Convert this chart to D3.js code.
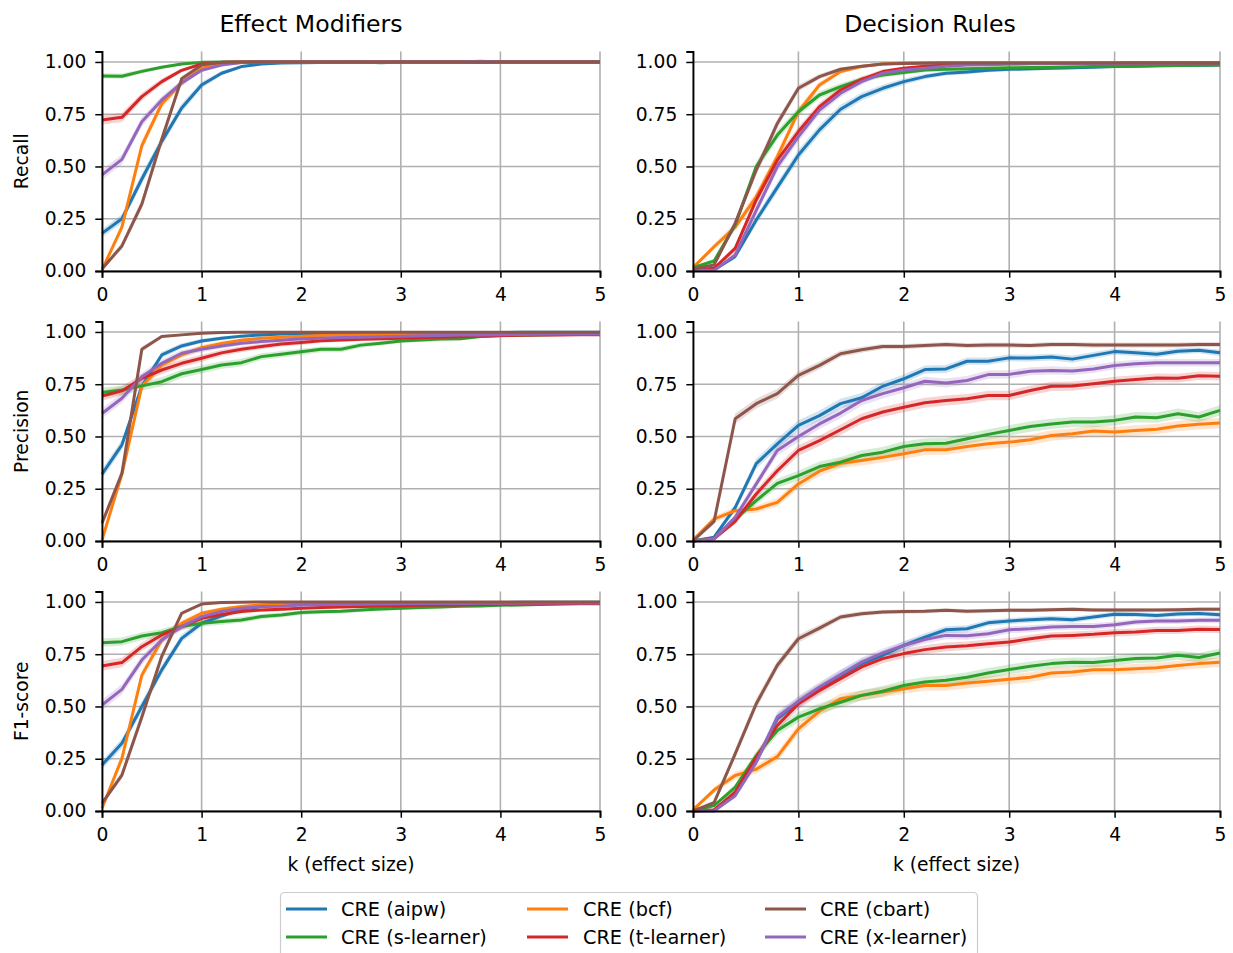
<!DOCTYPE html>
<html>
<head>
<meta charset="utf-8">
<script src="https://cdn.jsdelivr.net/npm/d3@7"></script>
<style>
  body { margin: 0; background: #fff; }
  text { font-family: "DejaVu Sans", sans-serif; fill: #000; }
</style>
</head>
<body>
<div id="chart"></div>
<script>
// Data
// ===========================
var ks = [0, 0.2, 0.4, 0.6, 0.8, 1, 1.2, 1.4, 1.6, 1.8, 2, 2.2, 2.4, 2.6, 2.8, 3, 3.2, 3.4, 3.6, 3.8, 4, 4.2, 4.4, 4.6, 4.8, 5];

// method order follows the colour cycle: aipw, bcf, s-learner, t-learner, x-learner, cbart
var methods = ["CRE (aipw)", "CRE (bcf)", "CRE (s-learner)", "CRE (t-learner)", "CRE (x-learner)", "CRE (cbart)"];
var colors = ["#1f77b4", "#ff7f0e", "#2ca02c", "#d62728", "#9467bd", "#8c564b"];

var colTitles = ["Effect Modifiers", "Decision Rules"];
var rowLabels = ["Recall", "Precision", "F1-score"];
var xTicks = [0, 1, 2, 3, 4, 5];
var yTicks = [0, 0.25, 0.5, 0.75, 1.0];

var recallEM = [
  [0.18, 0.25, 0.44, 0.62, 0.78, 0.89, 0.946, 0.978, 0.99, 0.995, 0.996, 0.997, 0.998, 0.999, 1, 1, 1, 1, 1, 1, 1, 1, 1, 1, 1, 1],
  [0.005, 0.21, 0.6, 0.8, 0.9, 0.97, 0.99, 0.997, 1, 1, 1, 1, 1, 1, 1, 1, 1, 1, 1, 1, 1, 1, 1, 1, 1, 1],
  [0.933, 0.932, 0.955, 0.975, 0.99, 0.998, 1, 1, 1, 1, 1, 1, 1, 1, 0.996, 1, 1, 1, 1, 1, 1, 1, 1, 1, 1, 1],
  [0.722, 0.735, 0.834, 0.906, 0.96, 0.99, 0.998, 1, 1, 1, 1, 1, 1, 1, 1, 1, 1, 1, 1, 1, 1, 1, 1, 1, 1, 1],
  [0.46, 0.534, 0.714, 0.818, 0.9, 0.96, 0.985, 0.997, 1, 1, 1, 1, 1, 1, 1, 1, 1, 1, 1, 1.003, 1, 1, 1, 1, 1, 1],
  [0.01, 0.12, 0.32, 0.63, 0.92, 0.985, 0.998, 1, 1, 1, 1, 1, 1, 1, 1, 1, 1, 1, 1, 1, 1, 1, 1, 1, 1, 1]
];
var recallDR = [
  [0.003, 0.005, 0.07, 0.244, 0.4, 0.555, 0.675, 0.774, 0.834, 0.874, 0.906, 0.93, 0.946, 0.952, 0.96, 0.965, 0.967, 0.97, 0.972, 0.975, 0.978, 0.98, 0.982, 0.983, 0.984, 0.985],
  [0.016, 0.116, 0.21, 0.355, 0.547, 0.762, 0.89, 0.954, 0.978, 0.99, 0.995, 0.996, 0.997, 0.997, 0.997, 0.997, 0.997, 0.997, 0.997, 0.997, 0.997, 0.997, 0.997, 0.997, 0.997, 0.997],
  [0.016, 0.048, 0.22, 0.5, 0.65, 0.762, 0.842, 0.882, 0.917, 0.938, 0.95, 0.962, 0.965, 0.968, 0.97, 0.972, 0.974, 0.975, 0.976, 0.978, 0.98, 0.981, 0.982, 0.983, 0.984, 0.985],
  [0.005, 0.013, 0.108, 0.34, 0.53, 0.667, 0.786, 0.866, 0.917, 0.954, 0.97, 0.98, 0.985, 0.988, 0.99, 0.991, 0.992, 0.993, 0.993, 0.994, 0.994, 0.995, 0.995, 0.995, 0.995, 0.995],
  [0.003, 0.003, 0.077, 0.29, 0.5, 0.643, 0.77, 0.85, 0.906, 0.946, 0.962, 0.97, 0.98, 0.985, 0.987, 0.99, 0.991, 0.992, 0.992, 0.993, 0.993, 0.994, 0.994, 0.994, 0.995, 0.995],
  [0.01, 0.029, 0.228, 0.483, 0.706, 0.874, 0.93, 0.965, 0.98, 0.99, 0.993, 0.994, 0.995, 0.995, 0.995, 0.995, 0.995, 0.995, 0.995, 0.995, 0.995, 0.995, 0.995, 0.995, 0.995, 0.995]
];
var precisionEM = [
  [0.32, 0.46, 0.74, 0.89, 0.933, 0.957, 0.97, 0.98, 0.986, 0.99, 0.99, 0.992, 0.993, 0.994, 0.995, 0.995, 0.996, 0.996, 0.997, 0.997, 0.997, 0.998, 0.998, 0.998, 0.998, 0.998],
  [0.005, 0.32, 0.74, 0.842, 0.89, 0.925, 0.945, 0.96, 0.97, 0.975, 0.98, 0.983, 0.985, 0.987, 0.988, 0.989, 0.99, 0.991, 0.992, 0.993, 0.993, 0.994, 0.994, 0.995, 0.995, 0.995],
  [0.71, 0.722, 0.742, 0.762, 0.8, 0.82, 0.842, 0.853, 0.882, 0.893, 0.905, 0.917, 0.917, 0.937, 0.946, 0.957, 0.962, 0.966, 0.968, 0.978, 0.982, 0.984, 0.986, 0.988, 0.989, 0.99],
  [0.694, 0.718, 0.778, 0.818, 0.85, 0.874, 0.9, 0.917, 0.93, 0.942, 0.949, 0.958, 0.962, 0.965, 0.967, 0.97, 0.973, 0.975, 0.977, 0.98, 0.983, 0.984, 0.985, 0.986, 0.987, 0.987],
  [0.61, 0.683, 0.786, 0.85, 0.898, 0.917, 0.933, 0.946, 0.954, 0.96, 0.967, 0.97, 0.973, 0.975, 0.977, 0.98, 0.982, 0.983, 0.985, 0.986, 0.987, 0.988, 0.989, 0.99, 0.99, 0.99],
  [0.085, 0.324, 0.917, 0.978, 0.986, 0.994, 0.997, 0.998, 0.999, 0.999, 0.999, 0.999, 0.999, 0.999, 0.999, 0.999, 0.999, 0.999, 0.999, 0.999, 0.999, 0.999, 0.999, 0.999, 0.999, 0.999]
];
var precisionDR = [
  [0, 0.018, 0.16, 0.37, 0.465, 0.553, 0.6, 0.657, 0.685, 0.74, 0.776, 0.82, 0.823, 0.86, 0.86, 0.876, 0.875, 0.88, 0.87, 0.888, 0.906, 0.9, 0.893, 0.908, 0.912, 0.9],
  [0.005, 0.105, 0.145, 0.153, 0.185, 0.273, 0.334, 0.372, 0.385, 0.4, 0.417, 0.436, 0.437, 0.452, 0.465, 0.473, 0.484, 0.505, 0.513, 0.526, 0.521, 0.529, 0.535, 0.55, 0.558, 0.564],
  [0, 0.014, 0.105, 0.193, 0.276, 0.313, 0.356, 0.377, 0.409, 0.425, 0.452, 0.465, 0.468, 0.489, 0.51, 0.529, 0.548, 0.56, 0.569, 0.569, 0.577, 0.593, 0.59, 0.609, 0.593, 0.625],
  [0, 0.01, 0.094, 0.225, 0.336, 0.433, 0.48, 0.532, 0.585, 0.617, 0.64, 0.661, 0.672, 0.68, 0.696, 0.696, 0.72, 0.74, 0.741, 0.752, 0.764, 0.772, 0.78, 0.779, 0.79, 0.788],
  [0, 0.01, 0.113, 0.273, 0.433, 0.5, 0.56, 0.612, 0.672, 0.705, 0.733, 0.764, 0.756, 0.768, 0.796, 0.797, 0.812, 0.816, 0.813, 0.823, 0.84, 0.848, 0.853, 0.853, 0.853, 0.853],
  [0, 0.094, 0.585, 0.657, 0.705, 0.792, 0.84, 0.896, 0.915, 0.93, 0.93, 0.935, 0.94, 0.935, 0.937, 0.937, 0.935, 0.94, 0.94, 0.937, 0.938, 0.937, 0.937, 0.938, 0.94, 0.94]
];
var f1EM = [
  [0.22, 0.324, 0.5, 0.675, 0.826, 0.898, 0.933, 0.965, 0.978, 0.986, 0.99, 0.992, 0.993, 0.994, 0.995, 0.995, 0.996, 0.996, 0.997, 0.997, 0.997, 0.998, 0.998, 0.998, 0.998, 0.998],
  [0.013, 0.252, 0.65, 0.818, 0.898, 0.946, 0.965, 0.978, 0.986, 0.99, 0.992, 0.993, 0.994, 0.995, 0.995, 0.996, 0.996, 0.996, 0.997, 0.997, 0.997, 0.997, 0.997, 0.997, 0.997, 0.997],
  [0.805, 0.81, 0.837, 0.853, 0.882, 0.898, 0.906, 0.914, 0.93, 0.938, 0.949, 0.953, 0.955, 0.962, 0.966, 0.97, 0.973, 0.976, 0.979, 0.981, 0.984, 0.986, 0.988, 0.99, 0.991, 0.992],
  [0.694, 0.71, 0.786, 0.842, 0.882, 0.922, 0.94, 0.954, 0.962, 0.965, 0.97, 0.974, 0.976, 0.978, 0.98, 0.982, 0.984, 0.985, 0.986, 0.988, 0.989, 0.99, 0.99, 0.991, 0.992, 0.992],
  [0.507, 0.582, 0.722, 0.818, 0.882, 0.93, 0.954, 0.97, 0.978, 0.98, 0.985, 0.987, 0.988, 0.989, 0.99, 0.991, 0.992, 0.993, 0.993, 0.994, 0.994, 0.995, 0.995, 0.995, 0.995, 0.995],
  [0.037, 0.172, 0.45, 0.74, 0.946, 0.99, 0.997, 0.999, 1, 1, 1, 1, 1, 1, 1, 1, 1, 1, 1, 1, 1, 1, 1, 1, 1, 1]
];
var f1DR = [
  [0, 0.005, 0.081, 0.24, 0.441, 0.52, 0.585, 0.649, 0.705, 0.745, 0.792, 0.832, 0.867, 0.872, 0.9, 0.909, 0.915, 0.92, 0.915, 0.928, 0.941, 0.94, 0.935, 0.942, 0.945, 0.939],
  [0.005, 0.1, 0.17, 0.2, 0.26, 0.393, 0.478, 0.537, 0.553, 0.569, 0.585, 0.6, 0.6, 0.612, 0.621, 0.63, 0.64, 0.66, 0.665, 0.676, 0.676, 0.68, 0.685, 0.696, 0.705, 0.711],
  [0, 0.026, 0.113, 0.265, 0.385, 0.449, 0.489, 0.52, 0.553, 0.573, 0.6, 0.617, 0.625, 0.64, 0.66, 0.677, 0.692, 0.705, 0.712, 0.71, 0.72, 0.73, 0.732, 0.745, 0.734, 0.756],
  [0, 0.005, 0.09, 0.257, 0.409, 0.513, 0.577, 0.633, 0.689, 0.729, 0.753, 0.772, 0.785, 0.791, 0.8, 0.808, 0.824, 0.837, 0.84, 0.845, 0.853, 0.856, 0.864, 0.864, 0.87, 0.868],
  [0, 0, 0.073, 0.233, 0.45, 0.525, 0.593, 0.653, 0.712, 0.756, 0.792, 0.82, 0.84, 0.838, 0.848, 0.867, 0.872, 0.88, 0.883, 0.883, 0.891, 0.904, 0.909, 0.909, 0.912, 0.912],
  [0, 0.04, 0.273, 0.513, 0.697, 0.824, 0.875, 0.928, 0.944, 0.952, 0.954, 0.955, 0.96, 0.955, 0.958, 0.96, 0.96, 0.963, 0.965, 0.962, 0.962, 0.962, 0.962, 0.963, 0.965, 0.965]
];

// panels[row][col]
var panels = [
  [recallEM, recallDR],
  [precisionEM, precisionDR],
  [f1EM, f1DR]
];

// Layout
// ===========================
var width = 1233;
var height = 953;
var colX = [[102, 600], [693, 1220]];
var rowY = [[51.5, 271], [321.5, 541], [591.5, 811]];
var titleX = [311, 930];
var fontSize = 18.7;

var svg = d3
  .select("#chart")
  .append("svg")
  .attr("width", width)
  .attr("height", height);

// column titles
colTitles.forEach(function(t, c) {
  svg.append("text")
    .attr("x", titleX[c])
    .attr("y", 31.5)
    .attr("text-anchor", "middle")
    .style("font-size", "23.6px")
    .text(t);
});

// Draw every panel
// ===========================
panels.forEach(function(row, r) {
  row.forEach(function(series, c) {
    var xScale = d3.scaleLinear().domain([0, 5]).range(colX[c]);
    var yScale = d3.scaleLinear().domain([0, 1.05]).range([rowY[r][1], rowY[r][0]]);
    var g = svg.append("g");

    // grid
    g.selectAll(".vgrid").data(xTicks).enter().append("line")
      .attr("x1", function(d) { return xScale(d); })
      .attr("x2", function(d) { return xScale(d); })
      .attr("y1", yScale(0))
      .attr("y2", yScale(1.05))
      .attr("stroke", "#b0b0b0")
      .attr("stroke-width", 1.6);
    g.selectAll(".hgrid").data(yTicks).enter().append("line")
      .attr("x1", xScale(0))
      .attr("x2", xScale(5))
      .attr("y1", function(d) { return yScale(d); })
      .attr("y2", function(d) { return yScale(d); })
      .attr("stroke", "#b0b0b0")
      .attr("stroke-width", 1.6);

    // confidence bands
    var area = d3.area()
      .x(function(d, i) { return xScale(ks[i]); })
      .y0(function(d) { return yScale(d - 0.05 * Math.sqrt(Math.max(0, d * (1 - d)))); })
      .y1(function(d) { return yScale(Math.min(1.003, d + 0.05 * Math.sqrt(Math.max(0, d * (1 - d))))); });
    series.forEach(function(vals, m) {
      g.append("path")
        .attr("d", area(vals))
        .attr("fill", colors[m])
        .attr("fill-opacity", 0.2);
    });

    // lines
    var line = d3.line()
      .x(function(d, i) { return xScale(ks[i]); })
      .y(function(d) { return yScale(d); });
    series.forEach(function(vals, m) {
      g.append("path")
        .attr("d", line(vals))
        .attr("fill", "none")
        .attr("stroke", colors[m])
        .attr("stroke-width", 3)
        .attr("stroke-linejoin", "round");
    });

    // axes
    var xAxis = d3.axisBottom(xScale).tickValues(xTicks).tickFormat(d3.format("d"))
      .tickSizeOuter(0).tickSize(6.7).tickPadding(10.5);
    var yAxis = d3.axisLeft(yScale).tickValues(yTicks).tickFormat(d3.format(".2f"))
      .tickSizeOuter(0).tickSize(6.7).tickPadding(9);

    var gx = svg.append("g")
      .attr("transform", "translate(0," + yScale(0) + ")")
      .call(xAxis);
    var gy = svg.append("g")
      .attr("transform", "translate(" + xScale(0) + ",0)")
      .call(yAxis);

    [gx, gy].forEach(function(a) {
      a.select(".domain").attr("stroke", "#000").attr("stroke-width", 1.8);
      a.selectAll(".tick line").attr("stroke", "#000").attr("stroke-width", 1.5);
      a.selectAll(".tick text")
        .style("font-family", "DejaVu Sans")
        .style("font-size", fontSize + "px")
        .attr("fill", "#000");
    });

    // y label only on left column
    if (c === 0) {
      svg.append("text")
        .attr("transform", "translate(28," + ((rowY[r][0] + rowY[r][1]) / 2) + ") rotate(-90)")
        .attr("text-anchor", "middle")
        .style("font-size", fontSize + "px")
        .text(rowLabels[r]);
    }
    // x label only on bottom row
    if (r === 2) {
      svg.append("text")
        .attr("x", (colX[c][0] + colX[c][1]) / 2)
        .attr("y", 871)
        .attr("text-anchor", "middle")
        .style("font-size", fontSize + "px")
        .text("k (effect size)");
    }
  });
});

// Legend
// ===========================
// laid out column by column, two rows
var legendOrder = [0, 2, 1, 3, 5, 4];
var legendCols = [[286, 341], [527, 583], [765, 820]];
var legendRows = [909, 937];

svg.append("rect")
  .attr("x", 280.5)
  .attr("y", 892.5)
  .attr("width", 697)
  .attr("height", 64)
  .attr("rx", 4)
  .attr("fill", "#fff")
  .attr("fill-opacity", 0.8)
  .attr("stroke", "#cccccc")
  .attr("stroke-width", 1.2);

legendOrder.forEach(function(m, i) {
  var col = Math.floor(i / 2);
  var row = i % 2;
  var lx = legendCols[col][0];
  var ly = legendRows[row];
  svg.append("line")
    .attr("x1", lx)
    .attr("x2", lx + 41)
    .attr("y1", ly)
    .attr("y2", ly)
    .attr("stroke", colors[m])
    .attr("stroke-width", 3);
  svg.append("text")
    .attr("x", legendCols[col][1])
    .attr("y", ly)
    .attr("dy", "0.35em")
    .style("font-size", "19.3px")
    .text(methods[m]);
});
</script>
</body>
</html>
